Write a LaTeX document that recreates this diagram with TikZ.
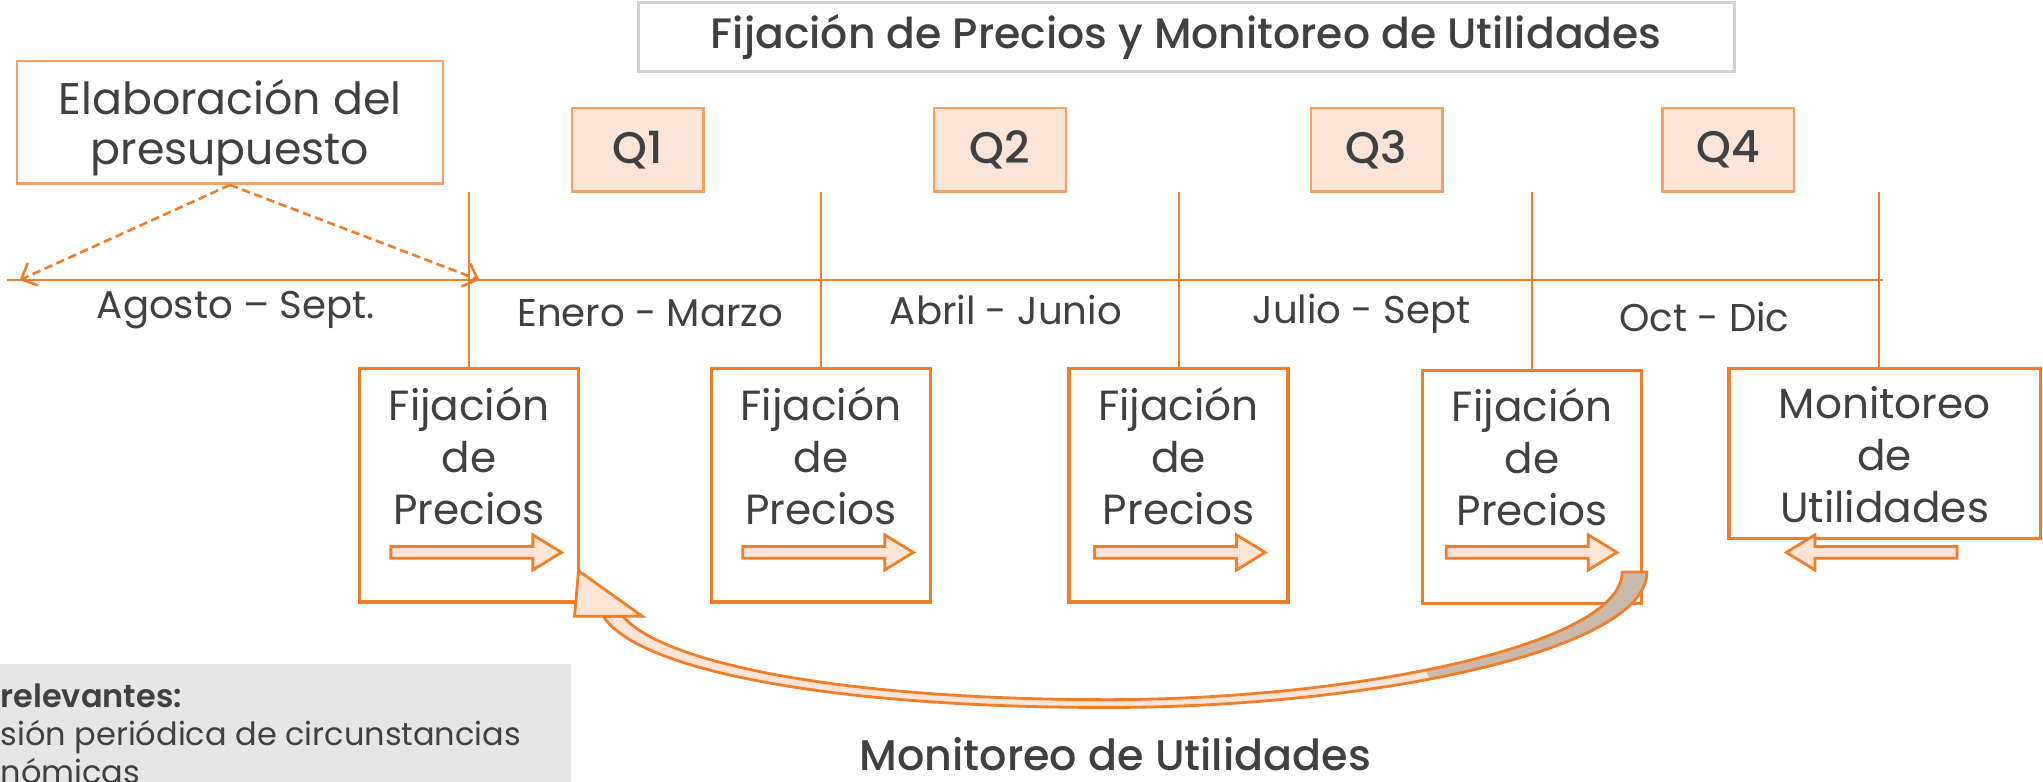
\documentclass[tikz,border=0pt]{standalone}
\usepackage{fontspec}
\setmainfont{Poppins}
\newfontfamily\semib{Poppins}[UprightFont={* Medium}]
\newfontfamily\sbold{Poppins}[UprightFont={* SemiBold}]
\usetikzlibrary{arrows.meta,calc}
\definecolor{orng}{RGB}{240,125,40}
\definecolor{lorng}{RGB}{246,160,95}
\definecolor{peach}{RGB}{252,228,214}
\definecolor{txt}{RGB}{64,64,64}
\definecolor{tborder}{RGB}{210,210,210}
\definecolor{tailgray}{RGB}{201,185,170}
\definecolor{boxgray}{RGB}{230,230,230}
\def\pxu{0.01303cm}
\tikzset{
  every node/.style={text=txt, inner sep=0pt},
  fijbox/.style={draw=orng, line width=0.9pt, minimum width=168*\pxu, minimum height=179*\pxu},
  qbox/.style={draw=lorng, fill=peach, line width=0.7pt, minimum width=101*\pxu, minimum height=64*\pxu, font=\semib\fontsize{12.6}{14}\selectfont},
  boxtext/.style={align=center, font=\fontsize{12}{14.8}\selectfont},
  period/.style={font=\fontsize{11}{13}\selectfont},
  vline/.style={draw=orng, line width=0.45pt},
  barrow/.style={draw=orng, fill=peach, line width=0.8pt, line join=miter},
  rblock/.pic={\draw[barrow] (0,-4.5) -- (109,-4.5) -- (109,-13.5) -- (131,0) -- (109,13.5) -- (109,4.5) -- (0,4.5) -- cycle;},
  dasharrow/.style={draw=orng, line width=0.75pt, dash pattern=on 2.4pt off 1.3pt, -{Straight Barb[length=3.6pt,width=7pt]}}
}
\begin{document}
\begin{tikzpicture}[x=0.01303cm, y=-0.01303cm]
\useasboundingbox (0,0) rectangle (1568,600);

% title
\node[draw=tborder, line width=0.9pt, minimum width=841*\pxu, minimum height=53*\pxu, font=\semib\fontsize{12.1}{14}\selectfont] (title) at (910.5,28.5) {Fijación de Precios y Monitoreo de Utilidades};

% budget box
\node[draw=lorng, line width=0.7pt, minimum width=327*\pxu, minimum height=94*\pxu, align=center, font=\fontsize{12.6}{14.1}\selectfont] (elab) at (176.5,94) {\rule{0pt}{13pt}Elaboración del\\presupuesto};

% Q boxes
\node[qbox] (q1) at (489.5,115) {Q1};
\node[qbox] (q2) at (767.5,115) {Q2};
\node[qbox] (q3) at (1056.5,115) {Q3};
\node[qbox] (q4) at (1326.5,115) {Q4};

% timeline
\coordinate (tl0) at (5,215);
\coordinate (tl1) at (1445,215);
\draw[draw=orng, line width=0.55pt] (tl0) -- (tl1);
\coordinate (a1) at (15,215);
\coordinate (a2) at (368,215);
\draw[dasharrow] (elab.south) -- (a1);
\draw[dasharrow] (elab.south) -- (a2);

% period labels
\node[period] (p0) at (181,238) {Agosto – Sept.};
\node[period] (p1) at (499,240) {Enero - Marzo};
\node[period] (p2) at (772,238) {Abril - Junio};
\node[period] (p3) at (1045,241) {Julio - Sept};
\node[period] (p4) at (1308,243) {Oct - Dic};

% boxes
\node[fijbox] (f1) at (360,372.5) {};
\node[fijbox] (f2) at (630,372.5) {};
\node[fijbox] (f3) at (904.5,372.5) {};
\node[fijbox] (f4) at (1176,374) {};
\node[draw=orng, line width=0.9pt, minimum width=239*\pxu, minimum height=130*\pxu] (mon) at (1446.5,348) {};

\node[boxtext] (t1) at (360,350) {Fijación\\de\\Precios};
\node[boxtext] (t2) at (630,350) {Fijación\\de\\Precios};
\node[boxtext] (t3) at (904.5,350) {Fijación\\de\\Precios};
\node[boxtext] (t4) at (1176,351) {Fijación\\de\\Precios};
\node[boxtext] (t5) at (1446.5,349) {Monitoreo\\de\\Utilidades};

% vertical lines
\coordinate (v1) at (360,147);
\coordinate (v2) at (630,147);
\coordinate (v3) at (905,147);
\coordinate (v4) at (1176,147);
\coordinate (v5) at (1442,147);
\draw[vline] (v1) -- (v1 |- f1.north);
\draw[vline] (v2) -- (v2 |- f2.north);
\draw[vline] (v3) -- (v3 |- f3.north);
\draw[vline] (v4) -- (v4 |- f4.north);
\draw[vline] (v5) -- (v5 |- mon.north);

% block arrows
\pic at (300,424) {rblock};
\pic at (570,424) {rblock};
\pic at (840,424) {rblock};
\pic at (1110,424) {rblock};
\pic[xscale=-1] at (1502,424) {rblock};

% curved return arrow
\def\bandpath{(1245,439) -- (1264,439) .. controls (1264,500) and (1050,543) .. (850,543) .. controls (640,543) and (490,515) .. (463,473) -- (478,473) .. controls (510,510) and (650,537) .. (850,537) .. controls (1040,537) and (1245,495) .. (1245,439) -- cycle}
\fill[peach] \bandpath;
\begin{scope}
\clip (1040,420) -- (1300,420) -- (1300,560) -- (1120,560) -- cycle;
\fill[tailgray] \bandpath;
\end{scope}
\draw[orng, line width=0.8pt, line join=round] \bandpath;
\draw[barrow] (444,438) -- (441,473) -- (493,473) -- cycle;

\node[font=\semib\fontsize{12.2}{14}\selectfont] (mu) at (856,579) {Monitoreo de Utilidades};

% grey note box (cut by the picture edge)
\fill[boxgray] (0,510) rectangle (438,600);
\node[anchor=north west, align=left, font=\fontsize{9.1}{10.8}\selectfont] (note) at (0,524) {{\sbold relevantes:}\\sión periódica de circunstancias\\nómicas};
\end{tikzpicture}
\end{document}
